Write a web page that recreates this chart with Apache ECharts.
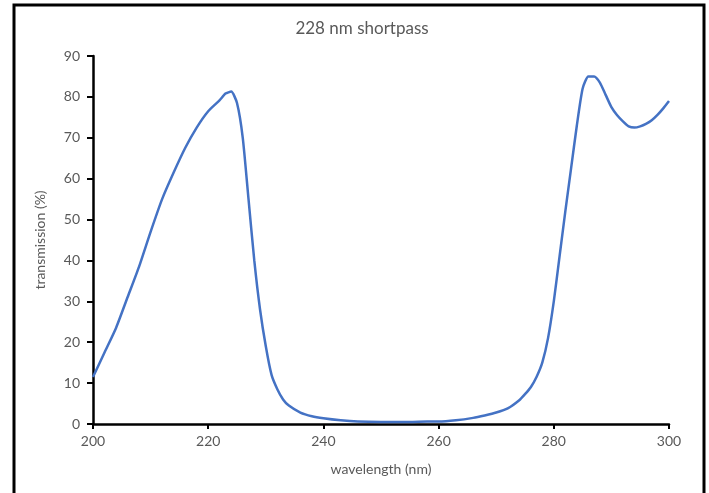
<!DOCTYPE html>
<html>
<head>
<meta charset="utf-8">
<script src="https://cdn.jsdelivr.net/npm/echarts@6/dist/echarts.min.js"></script>
<style>
  html, body { margin: 0; padding: 0; background: #fff; }
  #chart { width: 709px; height: 493px; }
</style>
</head>
<body>
<div id="chart"></div>
<script>
// wavelength (nm) and transmission (%)
var wavelength = [200, 202, 204, 206, 208, 210, 212, 214, 216, 218, 220, 222, 223, 224, 225, 226, 227, 228, 229, 230,
  231, 232, 233, 234, 236, 238, 240, 243, 246, 250, 255, 258, 260, 263, 266, 268, 270, 272, 274, 275,
  276, 277, 278, 279, 280, 281, 282, 283, 284, 285, 286, 287, 288, 289, 290, 291, 292, 293, 294, 295,
  296, 297, 298, 299, 300];
var transmission = [11.5, 17.5, 23.5, 31, 38.5, 47, 55, 61.5, 67.5, 72.5, 76.5, 79.2, 80.8, 81.3, 78.5, 70, 55, 40, 28, 19,
  12, 8.5, 6, 4.5, 2.8, 1.9, 1.4, 0.9, 0.6, 0.5, 0.5, 0.6, 0.6, 0.9, 1.5, 2.1, 2.8, 3.8, 5.8, 7.3,
  9, 11.5, 15, 21, 30, 41, 52, 62.5, 73, 82, 85, 85, 83.5, 80.5, 77.5, 75.5, 74, 72.8, 72.5, 72.8,
  73.4, 74.3, 75.6, 77.2, 79];

var titleText = '228 nm shortpass';
var xName = 'wavelength (nm)';
var yName = 'transmission (%)';

var lineData = wavelength.map(function(w, i){ return [w, transmission[i]]; });

var txt = '#595959';
var font = 'Lato, "Open Sans", sans-serif';

var myChart = echarts.init(document.getElementById('chart'));
myChart.setOption({
  animation: false,
  title: {
    text: titleText, left: 357, top: 15, textAlign: 'center',
    textStyle: { color: txt, fontSize: 17, fontWeight: 'normal', fontFamily: font }
  },
  grid: { left: 93, right: 40, top: 56, bottom: 69 },
  xAxis: {
    type: 'value', min: 200, max: 300, interval: 20,
    name: xName, nameLocation: 'middle', nameGap: 38,
    nameTextStyle: { color: txt, fontSize: 14, fontFamily: font },
    axisLine: { onZero: false, lineStyle: { color: '#000', width: 2.5 } },
    axisTick: { show: true, length: 5, lineStyle: { color: '#000', width: 2 } },
    axisLabel: { color: txt, fontSize: 14, fontFamily: font, margin: 10 },
    splitLine: { show: false }
  },
  yAxis: {
    type: 'value', min: 0, max: 90, interval: 10,
    name: yName, nameLocation: 'middle', nameGap: 46,
    nameTextStyle: { color: txt, fontSize: 14, fontFamily: font },
    axisLine: { show: true, lineStyle: { color: '#000', width: 2.5 } },
    axisTick: { show: true, length: 6, lineStyle: { color: '#000', width: 2 } },
    axisLabel: { color: txt, fontSize: 14, fontFamily: font, margin: 13 },
    splitLine: { show: false }
  },
  series: [{
    type: 'line',
    data: lineData,
    smooth: 0.2,
    showSymbol: false,
    lineStyle: { color: '#4472C4', width: 2.5 }
  }],
  graphic: [{
    type: 'rect',
    shape: { x: 14, y: 5, width: 690, height: 500 },
    style: { fill: 'none', stroke: '#000', lineWidth: 3 },
    silent: true
  }]
});
</script>
</body>
</html>
